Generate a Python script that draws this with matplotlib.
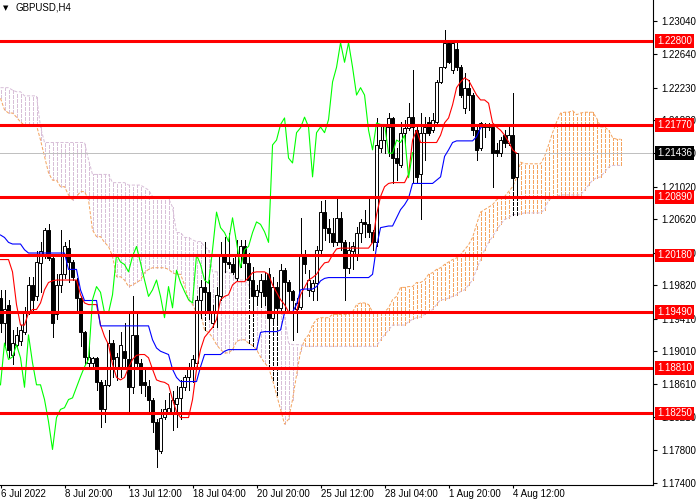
import matplotlib
matplotlib.use('Agg')
import matplotlib.pyplot as plt
import numpy as np

plt.rcParams['font.family'] = ['Liberation Sans', 'DejaVu Sans']
plt.rcParams['lines.scale_dashes'] = False

# ---------------- data (GBPUSD H4) ----------------
opens = [1.1966,1.1936,1.1958,1.1897,1.1909,1.1913,1.1925,1.1948,1.1982,1.1968,
         1.2009,1.2017,1.2049,1.2015,1.1946,1.1982,1.1995,1.2027,1.2010,1.1988,
         1.1966,1.1924,1.1887,1.1887,1.1893,1.1864,1.1830,1.1860,1.1911,1.1881,
         1.1879,1.1901,1.1891,1.1857,1.1921,1.1887,1.1863,1.1859,1.1842,1.1814,
         1.1779,1.1821,1.1827,1.1827,1.1836,1.1844,1.1857,1.1870,1.1882,1.1887,
         1.1964,1.1980,1.1973,1.1936,1.1948,1.1968,1.2019,1.2010,1.2007,1.1991,
         1.2017,1.2029,1.2009,1.1988,1.1968,1.1973,1.1988,1.1995,1.1942,1.1980,
         1.1954,1.2000,1.1985,1.1974,1.1952,1.1955,1.2019,1.1976,1.1974,1.1984,
         1.2025,1.2071,1.2052,1.2046,1.2035,1.2064,1.2035,1.2003,1.2023,1.2017,
         1.2046,1.2059,1.2056,1.2047,1.2034,1.2149,1.2159,1.2175,1.2186,1.2137,
         1.2129,1.2168,1.2174,1.2187,1.2171,1.2117,1.2168,1.2181,1.2171,1.2181,
         1.2230,1.2248,1.2278,1.2245,1.2270,1.2248,1.2198,1.2223,1.2214,1.2171,
         1.2149,1.2175,1.2175,1.2175,1.2147,1.2143,1.2165,1.2156,1.2165,1.2114]
highs = [1.1976,1.1976,1.1964,1.1927,1.1931,1.1933,1.1955,1.1992,1.1992,1.2023,
         1.2034,1.2052,1.2056,1.2017,1.1995,1.2049,1.2034,1.2037,1.2013,1.1991,
         1.1969,1.1926,1.1907,1.1894,1.1894,1.1866,1.1866,1.1927,1.1915,1.1899,
         1.1924,1.1936,1.1948,1.1968,1.1948,1.1891,1.1879,1.1866,1.1844,1.1818,
         1.1830,1.1842,1.1850,1.1852,1.1858,1.1866,1.1872,1.1887,1.1897,1.1968,
         1.1988,1.2034,1.1988,1.1958,1.1980,1.2035,1.2040,1.2046,1.2015,1.2037,
         1.2037,1.2037,1.2021,1.2004,1.1982,1.1995,1.1998,1.2003,1.1992,1.1985,
         1.2007,1.2003,1.1988,1.1976,1.1966,1.2064,1.2025,1.2000,1.1988,1.2029,
         1.2084,1.2086,1.2062,1.2064,1.2088,1.2071,1.2037,1.2034,1.2034,1.2053,
         1.2062,1.2074,1.2088,1.2049,1.2186,1.2178,1.2178,1.2192,1.2187,1.2149,
         1.2181,1.2184,1.2204,1.2245,1.2175,1.2192,1.2187,1.2187,1.2192,1.2232,
         1.2248,1.2293,1.2279,1.2279,1.2279,1.2251,1.2241,1.2232,1.2217,1.2178,
         1.2181,1.2180,1.2180,1.2178,1.2156,1.2163,1.2171,1.2178,1.2217,1.21436]
lows = [1.1924,1.1909,1.1894,1.1885,1.1907,1.1909,1.1922,1.1946,1.1948,1.1964,
        1.1973,1.2015,1.2013,1.1919,1.1940,1.1973,1.1991,1.1985,1.1988,1.1948,
        1.1907,1.1885,1.1879,1.1879,1.1854,1.1808,1.1814,1.1858,1.1870,1.1866,
        1.1869,1.1882,1.1827,1.1850,1.1882,1.1850,1.1846,1.1827,1.1802,1.1760,
        1.1777,1.1818,1.1826,1.1805,1.1809,1.1818,1.1854,1.1854,1.1863,1.1882,
        1.1942,1.1948,1.1940,1.1931,1.1931,1.1964,1.1998,1.2003,1.1995,1.1988,
        1.2004,1.1988,1.1970,1.1955,1.1958,1.1955,1.1958,1.1927,1.1937,1.1937,
        1.1949,1.1949,1.1948,1.1915,1.1925,1.1952,1.1997,1.1968,1.1964,1.1964,
        1.2019,1.2037,1.2034,1.2029,1.2031,1.2025,1.1964,1.1997,1.2001,1.2013,
        1.2034,1.2041,1.2041,1.2025,1.2029,1.2145,1.2143,1.2139,1.2107,1.2110,
        1.2126,1.2156,1.2171,1.2107,1.2107,1.2062,1.2135,1.2165,1.2169,1.2180,
        1.2229,1.2247,1.2253,1.2241,1.2245,1.2212,1.2192,1.2196,1.2165,1.2135,
        1.2147,1.2163,1.2171,1.2102,1.2139,1.2139,1.2151,1.2153,1.2102,1.2088]
closes = [1.1936,1.1952,1.1903,1.1911,1.1921,1.1927,1.1948,1.1982,1.1964,1.2010,
          1.2023,1.2049,1.2015,1.1936,1.1982,1.1995,1.2029,1.2010,1.1992,1.1966,
          1.1924,1.1894,1.1894,1.1893,1.1864,1.1830,1.1860,1.1911,1.1891,1.1894,
          1.1909,1.1893,1.1857,1.1921,1.1887,1.1860,1.1860,1.1842,1.1815,1.1781,
          1.1820,1.1830,1.1832,1.1842,1.1844,1.1857,1.1870,1.1882,1.1891,1.1964,
          1.1980,1.1973,1.1948,1.1948,1.1970,1.2019,1.2010,1.2007,1.1998,1.2017,
          1.2029,1.2009,1.1988,1.1968,1.1976,1.1988,1.1968,1.1942,1.1980,1.1954,
          1.2000,1.1985,1.1974,1.1964,1.1960,1.2019,1.2007,1.1988,1.1984,1.2025,
          1.2071,1.2052,1.2046,1.2035,1.2064,1.2034,1.2003,1.2025,1.2029,1.2046,
          1.2059,1.2056,1.2047,1.2034,1.2153,1.2159,1.2178,1.2186,1.2137,1.2131,
          1.2168,1.2174,1.2187,1.2175,1.2114,1.2168,1.2175,1.2168,1.2184,1.2230,
          1.2248,1.2278,1.2254,1.2278,1.2248,1.2214,1.2223,1.2214,1.2171,1.2147,
          1.2180,1.2178,1.2178,1.2143,1.2143,1.2159,1.2156,1.2165,1.2113,1.21436]

tenkan = ([1.2013]*3 + [1.1998, 1.1958] + [1.1933]*2 + [1.1948] + [1.1952]*2 +
          [1.1960, 1.1976, 1.1985, 1.1987] + [1.1988]*6 + [1.1970, 1.1960] + [1.1958]*3 +
          [1.1933, 1.1919, 1.1909, 1.1885, 1.1869, 1.1866, 1.1869, 1.1881, 1.1891, 1.1896] +
          [1.1897]*2 + [1.1893, 1.1879, 1.1866, 1.1864, 1.1863, 1.1860, 1.1842, 1.1827] +
          [1.1820]*3 + [1.1842, 1.1879, 1.1903, 1.1918, 1.1924, 1.1930, 1.1940, 1.1964,
          1.1968, 1.1970, 1.1982] + [1.1986]*3 + [1.1991, 1.1997] + [1.1998]*3 +
          [1.1995, 1.1982, 1.1973, 1.1964, 1.1958] + [1.1949]*3 +
          [1.1970, 1.1979, 1.1988, 1.1991, 1.1995, 1.2003, 1.2009, 1.2010, 1.2019, 1.2026] +
          [1.2027]*8 + [1.2034, 1.2068, 1.2090, 1.2102, 1.2106] + [1.2107]*4 +
          [1.2117, 1.2159, 1.2171] + [1.2156]*5 +
          [1.2165, 1.2180, 1.2186, 1.2202, 1.2223, 1.2230, 1.2235, 1.2232, 1.2223, 1.2214] +
          [1.2208]*2 + [1.2204, 1.2180, 1.2175, 1.2171, 1.2165, 1.2157, 1.2147, 1.2143])

kijun = ([1.2043, 1.2040, 1.2034] + [1.2032]*3 + [1.2025] + [1.2021]*10 + [1.2001]*3 +
         [1.1976] + [1.1963]*4 + [1.1932]*13 +
         [1.1915, 1.1905, 1.1901, 1.1899, 1.1897, 1.1879, 1.1869] + [1.1864]*5 +
         [1.1882] + [1.1897]*5 + [1.1901] + [1.1903]*8 + [1.1924] + [1.1925]*4 +
         [1.1927, 1.1948] + [1.1949]*2 + [1.1958, 1.1976] + [1.1977]*3 +
         [1.1980, 1.1987, 1.1990] + [1.1991]*11 + [1.1995, 1.2029, 1.2052, 1.2053] +
         [1.2054]*2 + [1.2064, 1.2074, 1.2080, 1.2088] + [1.2106]*6 +
         [1.2110, 1.2114, 1.2139, 1.2147, 1.2156] + [1.2158]*5 + [1.2163, 1.2174] +
         [1.2177]*9)

senkou_a = [1.2210,1.2196,1.2192,1.2192,1.2187,1.2181,1.2177,1.2177,1.2177,1.2177,
            1.2159,1.2139,1.2119,1.2110,1.2110,1.2102,1.2102,1.2092,1.2086,1.2090,1.2096,1.2096,
            1.2086,1.2049,1.2041,1.2041,1.2034,1.2029,1.2017,1.1992,1.1992,1.1988,
            1.1980,1.1982,1.1985,1.1988,1.1997,1.2001,1.2003,1.2003,1.2003,1.2003,1.2001,1.1997,
            1.1995,1.1995,1.1982,1.1964,1.1958,1.1948,1.1948,1.1927,1.1924,
            1.1918,1.1909,1.1903,1.1899,1.1899,1.1903,1.1913,1.1915,1.1915,
            1.1911,1.1908,1.1903,1.1894,1.1887,1.1881,1.1866,1.1848,1.1830,1.1812,
            1.1818,1.1842,1.1872,1.1901,
            1.1915,1.1921,1.1933,1.1940,1.1942,
            1.1942,1.1942,1.1946,1.1946,1.1946,
            1.1946,1.1946,1.1949,1.1958,1.1960,
            1.1960,1.1958,1.1949,1.1949,1.1949,
            1.1949,1.1954,1.1964,1.1968,1.1979,
            1.1979,1.1980,1.1980,1.1985,1.1985,
            1.1988,1.1995,1.1997,1.2001,1.2003,
            1.2007,1.2010,1.2013,1.2015,1.2019,
            1.2025,1.2031,1.2040,1.2056,1.2071,
            1.2074,1.2077,1.2080,1.2086,1.2088,
            1.2090,1.2096,1.2102,1.2113,1.2132,
            1.2130,1.2130,1.2130,1.2130,1.2130,
            1.2139,1.2153,1.2168,1.2181,1.2192,
            1.2193,1.2193,1.2195,1.2190,1.2192,
            1.2193,1.2193,1.2193,1.2186,1.2175,
            1.2175,1.2171,1.2162,1.2160,1.2160]

senkou_b = ([1.2223,1.2223,1.2223,1.2220,1.2218,1.2218,1.2213,1.2213,1.2213,1.2213] +
            [1.2175] + [1.2156]*11 + [1.2135] + [1.2117]*5 + [1.2107]*4 +
            [1.2104]*4 + [1.2101, 1.2098, 1.2090] + [1.2088]*4 + [1.2077] +
            [1.2046, 1.2046, 1.2040, 1.2040, 1.2037, 1.2035, 1.2035, 1.2029, 1.2025] +
            [1.1998]*5 + [1.1995] + [1.1988]*3 +
            [1.1982] + [1.1974]*4 + [1.1970, 1.1964, 1.1955, 1.1949, 1.1943] +
            [1.1911, 1.1909, 1.1909, 1.1909] + [1.1907]*19 +
            [1.1915, 1.1921, 1.1927] + [1.1933]*4 +
            [1.1937, 1.1940, 1.1942, 1.1943, 1.1946, 1.1949, 1.1952, 1.1958] + [1.1964]*2 +
            [1.1966, 1.1968, 1.1970, 1.1974, 1.1976, 1.1982, 1.1988, 1.2001, 1.2013, 1.2025,
             1.2034, 1.2041, 1.2049, 1.2056, 1.2062, 1.2064] + [1.2068]*2 + [1.2069] +
            [1.2070]*5 + [1.2074, 1.2086, 1.2088, 1.2090] + [1.2092]*6 +
            [1.2098, 1.2104, 1.2110, 1.2113, 1.2114, 1.2120, 1.2126] + [1.2128]*3)

# bars whose cloud hatch is drawn dark below the candle
dark_hatch_bars = [51, 62, 63, 67, 68, 69, 128, 129]

chikou_shift = 26
levels = [1.2280, 1.2177, 1.2089, 1.2018, 1.1949, 1.1881, 1.1825]
bid = 1.21436
price_ticks = [1.2304, 1.2264, 1.2223, 1.2183, 1.2143, 1.2102, 1.2062, 1.2021,
               1.1982, 1.1941, 1.1901, 1.1861, 1.1821, 1.1780, 1.1740]
time_tick_pos = [0, 16, 32, 48, 64, 80, 96, 112, 128]
time_labels = ['6 Jul 2022', '8 Jul 20:00', '13 Jul 12:00', '18 Jul 04:00', '20 Jul 20:00',
               '25 Jul 12:00', '28 Jul 04:00', '1 Aug 20:00', '4 Aug 12:00']
symbol_title = 'GBPUSD,H4'

# ---------------- figure ----------------
fig = plt.figure(figsize=(7, 5), dpi=100)
fig.patch.set_facecolor('white')
ax = fig.add_axes([0, 15/500, 653/700, 485/500])
ax.set_facecolor('white')

ax.set_xlim(-0.125, 163.1)
ax.set_ylim(1.17376, 1.23301)

dash = (0, (2.3, 1.2))
PX = 0.72  # one pixel in points

# Ichimoku cloud hatch
n_cloud = min(len(senkou_a), len(senkou_b))
xc = np.arange(n_cloud)
sa = np.array(senkou_a[:n_cloud])
sb = np.array(senkou_b[:n_cloud])
up = sa >= sb
ax.vlines(xc[up], sb[up], sa[up], colors='#F4A460', linewidth=PX, linestyles=dash,
          antialiased=False, zorder=1)
ax.vlines(xc[~up], sa[~up], sb[~up], colors='#D8BFD8', linewidth=PX, linestyles=dash,
          antialiased=False, zorder=1)
ax.plot(xc, sa, color='#F4A460', lw=PX, ls=dash, zorder=1.2)
ax.plot(xc, sb, color='#D8BFD8', lw=PX, ls=dash, zorder=1.2)

# bid line
ax.axhline(bid, color='#C0C0C0', lw=PX, zorder=1.5)

# candles
n = min(len(opens), len(highs), len(lows), len(closes))
x = np.arange(n)
o = np.array(opens[:n]); h = np.array(highs[:n]); l = np.array(lows[:n]); c = np.array(closes[:n])

# dark hatch segments below some candles
dk = [b for b in dark_hatch_bars if b < n and b < n_cloud]
if dk:
    dk = np.array(dk)
    cloud_low = np.minimum(sa[dk], sb[dk])
    ax.vlines(dk, cloud_low, l[dk], colors='black', linewidth=PX, linestyles=dash,
              antialiased=False, zorder=1.8)

ax.vlines(x, l, h, colors='black', linewidth=PX, antialiased=False, zorder=2)
bull = c >= o
body_lo = np.minimum(o, c)
body_h = np.maximum(np.abs(c - o), 0.00008)
ax.bar(x[bull], body_h[bull], bottom=body_lo[bull], width=0.55, facecolor='white',
       edgecolor='black', linewidth=0.7, zorder=3)
ax.bar(x[~bull], body_h[~bull], bottom=body_lo[~bull], width=0.55, facecolor='black',
       edgecolor='black', linewidth=0.7, zorder=3)

# tenkan / kijun / chikou
ax.plot(np.arange(len(tenkan)), tenkan, color='#FF0000', lw=0.8, zorder=4)
ax.plot(np.arange(len(kijun)), kijun, color='#0000FF', lw=0.8, zorder=4)
chikou = c[chikou_shift:]
ax.plot(np.arange(len(chikou)), chikou, color='#00FF00', lw=0.8, zorder=4)

# horizontal levels
for lv in levels:
    ax.axhline(lv, color='#FF0000', lw=2.2, zorder=5)

# spines
for s in ['top', 'left']:
    ax.spines[s].set_visible(False)
for s in ['right', 'bottom']:
    ax.spines[s].set_color('black')
    ax.spines[s].set_linewidth(0.8)

# price axis
ax.yaxis.tick_right()
ax.set_yticks(price_ticks)
ax.set_yticklabels(['%.5f' % p for p in price_ticks])
ax.tick_params(axis='y', direction='out', length=3, width=0.8, pad=3, labelsize=7, colors='black')

# time axis
ax.set_xticks(time_tick_pos)
ax.set_xticklabels(time_labels)
ax.tick_params(axis='x', direction='out', length=2.5, width=0.8, pad=0.5, labelsize=7, colors='black')
for lbl in ax.get_xticklabels():
    lbl.set_horizontalalignment('left')

# level labels
for lv in levels:
    ax.annotate('%.5f' % lv, xy=(1, lv), xycoords=('axes fraction', 'data'),
                xytext=(4, 0), textcoords='offset pixels', ha='left', va='center',
                color='white', fontsize=7,
                bbox=dict(boxstyle='square,pad=0.2', fc='#FF0000', ec='none'),
                annotation_clip=False, zorder=10)
ax.annotate('%.5f' % bid, xy=(1, bid), xycoords=('axes fraction', 'data'),
            xytext=(4, 0), textcoords='offset pixels', ha='left', va='center',
            color='white', fontsize=7,
            bbox=dict(boxstyle='square,pad=0.2', fc='black', ec='none'),
            annotation_clip=False, zorder=10)

# title
fig.text(3/700, 1 - 8/500, '\u25BC', fontsize=5, va='center', ha='left', color='black',
         family=['DejaVu Sans'])
fig.text(15/700, 1 - 8/500, symbol_title, fontsize=7, va='center', ha='left', color='black')

fig.savefig('out.png', dpi=100, facecolor='white')
